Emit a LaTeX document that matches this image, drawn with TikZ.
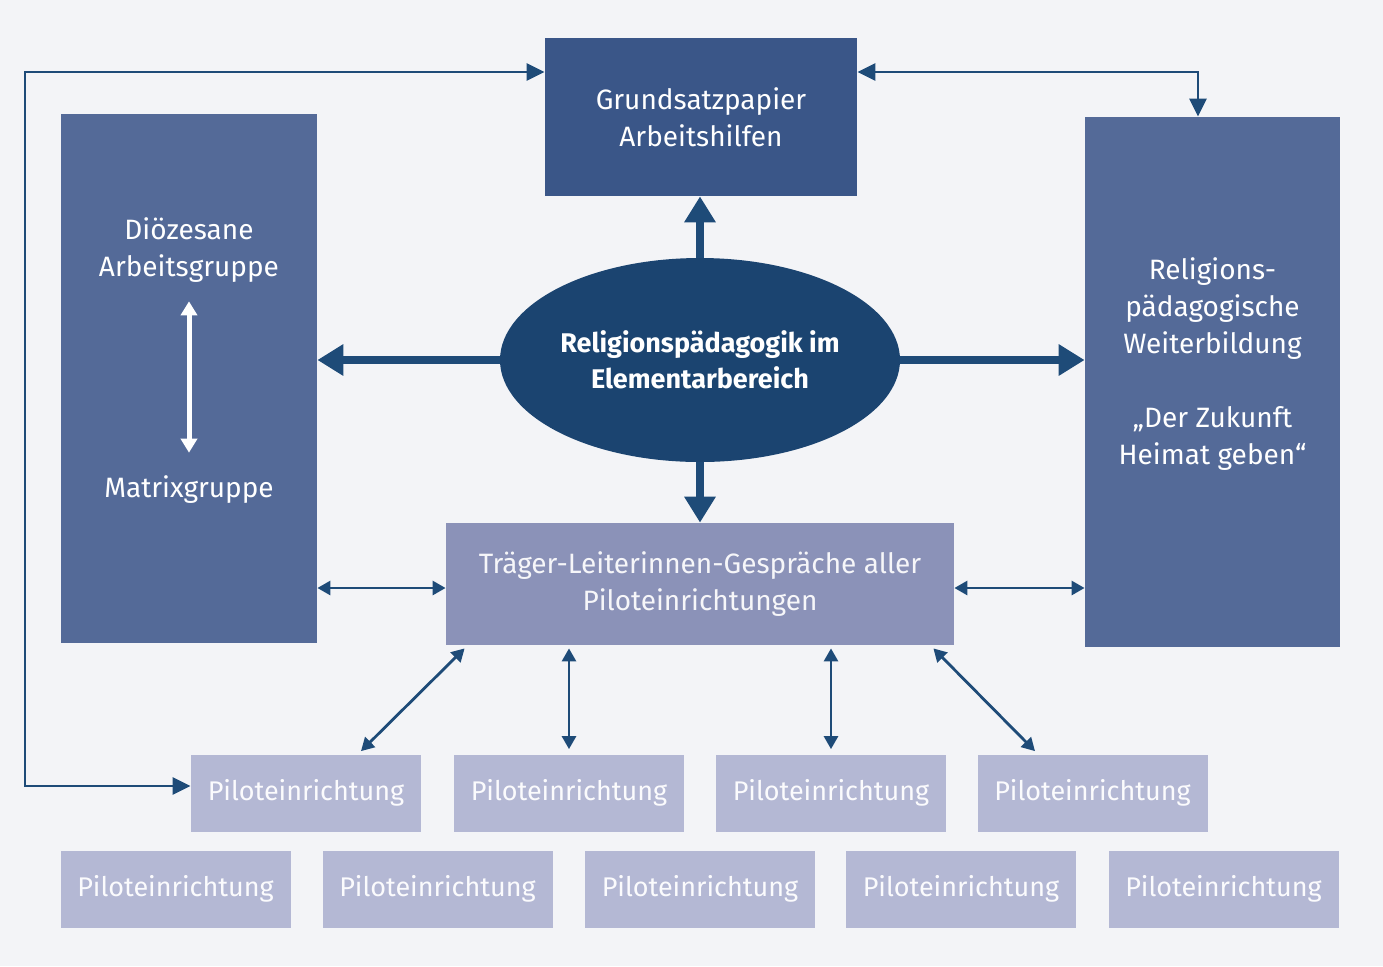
\documentclass[tikz,border=0pt]{standalone}
\usepackage{fontspec}
\setmainfont{Fira Sans}
\usetikzlibrary{shapes.geometric,arrows.meta}
\definecolor{grund}{RGB}{243,244,247}
\definecolor{dunkel}{RGB}{58,86,136}
\definecolor{mittel}{RGB}{84,106,152}
\definecolor{kern}{RGB}{27,68,112}
\definecolor{hell}{RGB}{139,146,184}
\definecolor{blass}{RGB}{180,184,212}
\definecolor{pfeil}{RGB}{30,75,120}

\begin{document}
\begin{tikzpicture}[x=0.5pt,y=-0.5pt]
		\tikzstyle{every node}+=[inner sep=0pt,align=center,text=white,font=\fontsize{14}{18.5}\selectfont]
		\tikzstyle{kasten}=[rectangle,minimum width=#1]
		\tikzstyle{pilot}=[rectangle,fill=blass,minimum width=115pt,minimum height=38.5pt,text=white!95!blass,font=\fontsize{13.5}{16}\selectfont]
		\tikzstyle{dick}=[pfeil,line width=4pt,-{Triangle[length=13pt,width=15pt]}]
		\tikzstyle{duenn}=[pfeil,line width=1.4pt,{Triangle[length=6.5pt,width=7pt]}-{Triangle[length=6.5pt,width=7pt]}]
		\tikzstyle{schleife}=[pfeil,line width=1.4pt,{Triangle[length=9pt,width=8.5pt]}-{Triangle[length=9pt,width=8.5pt]}]
		\tikzstyle{weiss}=[white,line width=2.5pt,{Triangle[length=7pt,width=8pt]}-{Triangle[length=7pt,width=8pt]}]
		\fill [grund] (0,0) rectangle (1383,966);
		\useasboundingbox (0,0) rectangle (1383,966);
		\node [kasten=156pt,fill=dunkel,minimum height=79pt] (gp) at (701,117) {Grundsatzpapier\\Arbeitshilfen};
		\node [kasten=128pt,fill=mittel,minimum height=264.5pt] (dio) at (189,378.5) {};
		\node [kasten=127.5pt,fill=mittel,minimum height=265pt] (wb) at (1212.5,382) {};
		\node (dag) at (189,250.5) {Diözesane\\Arbeitsgruppe};
		\node (mg) at (189,490) {Matrixgruppe};
		\node (wbt) at (1212.5,364) {Religions-\\pädagogische\\Weiterbildung\\[18.5pt]„Der Zukunft\\Heimat geben“};
		\node [ellipse,fill=kern,minimum width=200pt,minimum height=102pt,font=\bfseries\fontsize{13.5}{18}\selectfont] (rp) at (700,360) {Religionspädagogik im\\Elementarbereich};
		\node [kasten=254pt,fill=hell,minimum height=61pt,text=white!92!hell] (tl) at (700,584) {Träger-Leiterinnen-Gespräche aller\\Piloteinrichtungen};
		\node [pilot] (p1) at (306,793) {Piloteinrichtung};
		\node [pilot] (p2) at (569,793) {Piloteinrichtung};
		\node [pilot] (p3) at (831,793) {Piloteinrichtung};
		\node [pilot] (p4) at (1092.5,793) {Piloteinrichtung};
		\node [pilot] (p5) at (175.5,889) {Piloteinrichtung};
		\node [pilot] (p6) at (437.5,889) {Piloteinrichtung};
		\node [pilot] (p7) at (700,889) {Piloteinrichtung};
		\node [pilot] (p8) at (961,889) {Piloteinrichtung};
		\node [pilot] (p9) at (1223.5,889) {Piloteinrichtung};
		\coordinate (links) at (25,786);
		\draw [dick] (rp.north) -- (rp.north |- gp.south);
		\draw [dick] (rp.south) -- (rp.south |- tl.north);
		\draw [dick] (rp.west) -- (rp.west -| dio.east);
		\draw [dick] (rp.east) -- (rp.east -| wb.west);
		\draw [weiss,shorten <=9pt,shorten >=11.5pt] (dag.south) -- (mg.north);
		\draw [schleife] ([yshift=22.5pt]gp.west) -| (links) -- ([yshift=3.5pt]p1.west);
		\draw [schleife] ([yshift=22.5pt]gp.east) -| ([xshift=-7.25pt]wb.north);
		\draw [duenn] ([yshift=-104.75pt]dio.east) coordinate (h) -- (h -| tl.west);
		\draw [duenn] (h -| tl.east) -- (h -| wb.west);
		\draw [duenn] ([xshift=9.5pt,yshift=-1.5pt]tl.south west) -- ([xshift=27.5pt,yshift=1.5pt]p1.north);
		\draw [duenn] ([yshift=-1.5pt]tl.south -| p2.north) -- ([yshift=2.5pt]p2.north);
		\draw [duenn] ([yshift=-1.5pt]tl.south -| p3.north) -- ([yshift=2.5pt]p3.north);
		\draw [duenn] ([xshift=-10.5pt,yshift=-1.5pt]tl.south east) -- ([xshift=-28.75pt,yshift=1.5pt]p4.north);
	\end{tikzpicture}
\end{document}
